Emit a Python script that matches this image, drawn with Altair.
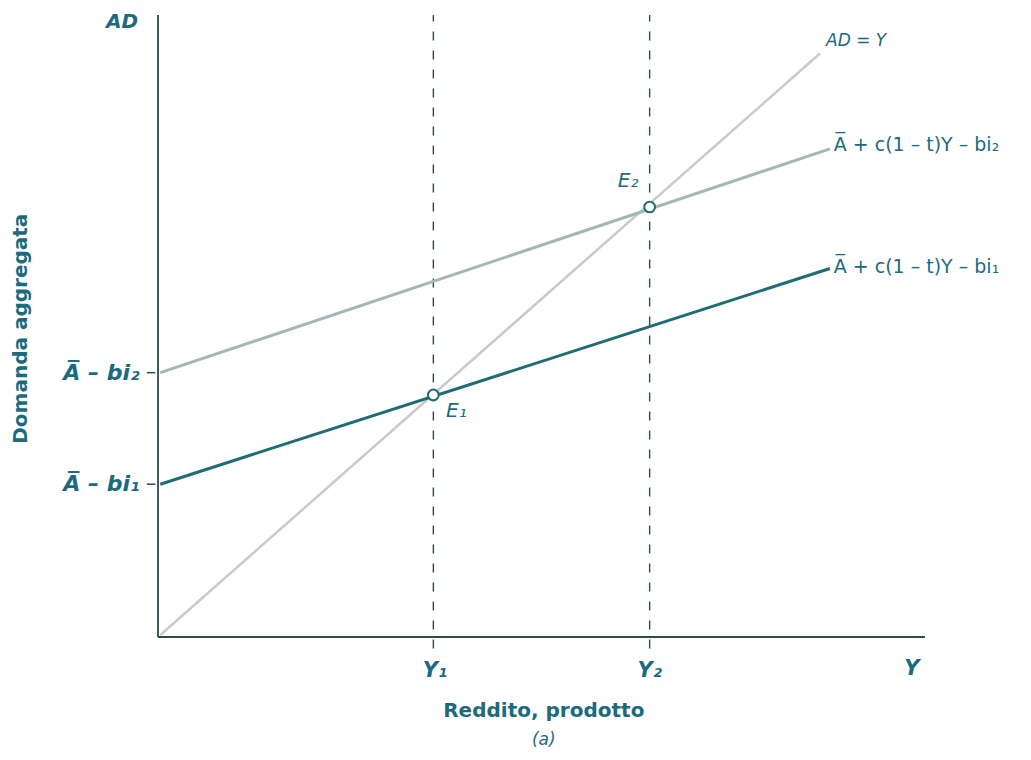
import altair as alt
import pandas as pd

# ---- data (economic units) ----
ad_x = [0.3, 86.3]
ad_y = [0.3, 86.3]
low_x = [0.3, 87.6]
low_y = [22.6, 54.5]
up_x = [0.3, 87.6]
up_y = [39.1, 72.2]
eq_names = ["E1", "E2"]
eq_x = [35.9, 64.1]
eq_y = [35.8, 63.6]
intercepts = [22.6, 39.1]
y_top = 92

TEAL = "#1c6a7d"
DARK = "#1f6c74"
GRAY = "#a6b6b6"
LIGHT = "#c6cbcc"
AXIS = "#2d4a52"
FONT = "DejaVu Sans"

xs = alt.Scale(domain=[0, 100], nice=False, zero=False)
ys = alt.Scale(domain=[0, y_top], nice=False, zero=False)

def line_df(xv, yv):
    return pd.DataFrame({"x": xv, "y": yv})

def line(xv, yv, color, w):
    return alt.Chart(line_df(xv, yv)).mark_line(color=color, strokeWidth=w).encode(
        x=alt.X("x:Q", scale=xs, axis=None), y=alt.Y("y:Q", scale=ys, axis=None))

axes_df = pd.DataFrame({"x": [0, 0], "x2": [100, 0], "y": [0, 0], "y2": [0, y_top]})
axes = alt.Chart(axes_df).mark_rule(color=AXIS, strokeWidth=1.8).encode(
    x=alt.X("x:Q", scale=xs, axis=None), x2="x2:Q",
    y=alt.Y("y:Q", scale=ys, axis=None), y2="y2:Q")

vdf = pd.DataFrame({"x": eq_x, "y": [-1.7] * 2, "y2": [y_top] * 2})
vlines = alt.Chart(vdf).mark_rule(color=AXIS, strokeWidth=1.4, strokeDash=[9, 10]).encode(
    x=alt.X("x:Q", scale=xs, axis=None), y=alt.Y("y:Q", scale=ys, axis=None), y2="y2:Q")

tdf = pd.DataFrame({"x": [-1.45] * 2, "x2": [-0.35] * 2, "y": intercepts})
yticks = alt.Chart(tdf).mark_rule(color=AXIS, strokeWidth=1.5).encode(
    x=alt.X("x:Q", scale=xs, axis=None), x2="x2:Q", y=alt.Y("y:Q", scale=ys, axis=None))

pts = alt.Chart(pd.DataFrame({"x": eq_x, "y": eq_y})).mark_point(
    shape="circle", filled=False, fill="white", fillOpacity=1, color=DARK,
    strokeWidth=2, size=115, opacity=1).encode(
    x=alt.X("x:Q", scale=xs, axis=None), y=alt.Y("y:Q", scale=ys, axis=None))

def txt(t, x, y, size=20, weight="bold", style="normal", align="center", color=TEAL, angle=0):
    return alt.Chart(pd.DataFrame({"x": [x], "y": [y], "t": [t]})).mark_text(
        font=FONT, fontSize=size, fontWeight=weight, fontStyle=style, align=align,
        baseline="middle", color=color, angle=angle).encode(
        x=alt.X("x:Q", scale=xs, axis=None), y=alt.Y("y:Q", scale=ys, axis=None), text="t:N")

OV = "A\u0305"
texts = [
    txt("AD", -2.6, 91.0, size=20, style="italic", align="right"),
    txt("Domanda aggregata", -17.8, 45.6, size=20, angle=270),
    txt(OV + " \u2013 bi\u2082", -2.4, 39.1, size=22, style="italic", align="right"),
    txt(OV + " \u2013 bi\u2081", -2.4, 22.6, size=22, style="italic", align="right"),
    txt("Y\u2081", 36.1, -5.1, size=21, style="italic"),
    txt("Y\u2082", 64.1, -5.1, size=21, style="italic"),
    txt("Y", 98.3, -4.7, size=21, style="italic"),
    txt("Reddito, prodotto", 50.3, -11.0, size=20),
    txt("(a)", 50.3, -15.3, size=17, weight="normal", style="italic"),
    txt("AD = Y", 87.1, 88.2, size=17, weight="normal", style="italic", align="left"),
    txt(OV + " + c(1 \u2013 t)Y \u2013 bi\u2082", 88.1, 72.8, size=19, weight="normal", align="left"),
    txt(OV + " + c(1 \u2013 t)Y \u2013 bi\u2081", 88.1, 54.8, size=19, weight="normal", align="left"),
    txt("E\u2082", 61.3, 67.4, size=20, weight="normal", style="italic"),
    txt("E\u2081", 38.9, 33.4, size=20, weight="normal", style="italic"),
]

chart = alt.layer(
    axes,
    vlines,
    yticks,
    line(ad_x, ad_y, LIGHT, 2.5),
    line(up_x, up_y, GRAY, 3),
    line(low_x, low_y, DARK, 3),
    pts,
    *texts,
).properties(
    width=767, height=622, autosize="none", background="white",
    padding={"left": 150, "top": 7, "right": 90, "bottom": 115},
).configure_view(strokeWidth=0, stroke="transparent")

chart.save("out.html", embed_options={"renderer": "svg", "actions": False})
